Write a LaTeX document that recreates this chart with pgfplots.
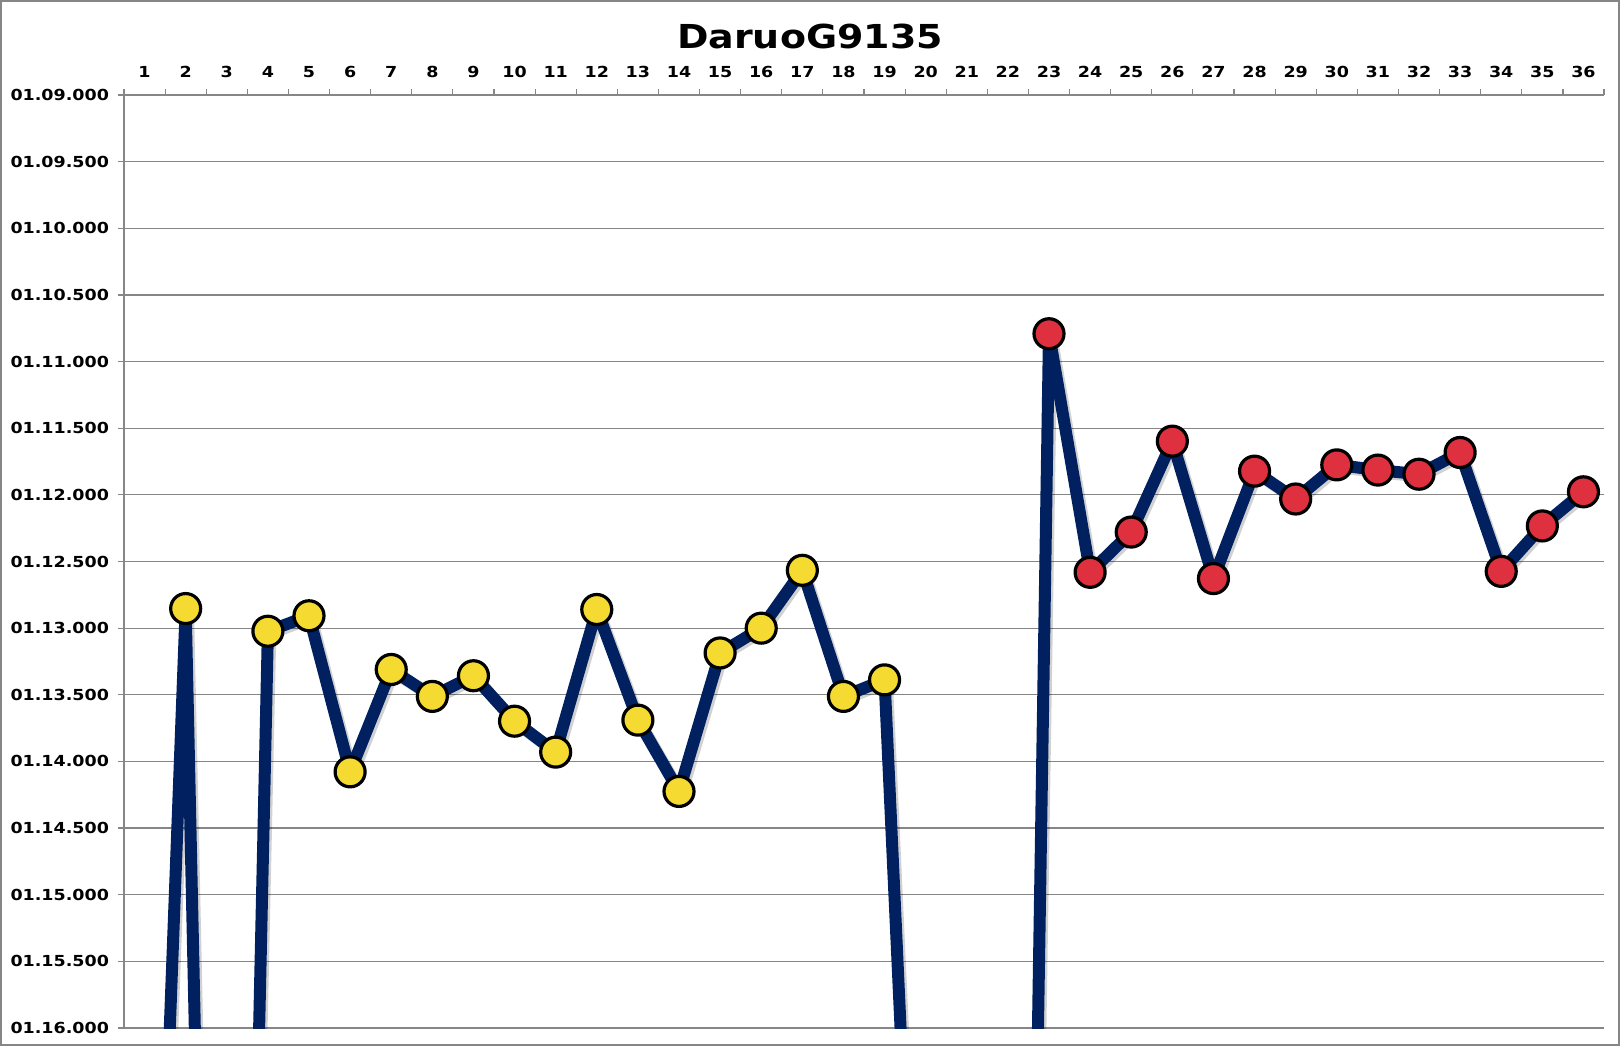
\documentclass[border=0pt]{standalone}
\usepackage{fontspec}
\setmainfont{DejaVu Sans}[FakeStretch=1.15]
\usepackage{pgfplots}
\pgfplotsset{compat=1.18}
\usepackage{pgfplotstable}

\definecolor{navy}{RGB}{0,32,96}
\definecolor{gridgray}{RGB}{134,134,134}
\definecolor{lapyellow}{RGB}{245,218,50}
\definecolor{lapred}{RGB}{222,48,62}

% lap, time in seconds (1:12.853 -> 72.853); laps 1,3,20-22 are off the chart
\pgfplotstableread{
lap time
1  81.0
2  72.853
3  87.0
4  73.023
5  72.907
6  74.078
7  73.310
8  73.512
9  73.357
10 73.698
11 73.930
12 72.860
13 73.690
14 74.225
15 73.186
16 73.000
17 72.566
18 73.512
19 73.388
20 80.1
21 85.0
22 90.2
23 70.791
24 72.581
25 72.279
26 71.597
27 72.628
28 71.822
29 72.031
30 71.775
31 71.814
32 71.845
33 71.682
34 72.574
35 72.233
36 71.977
}\laps

\begin{document}
\begin{tikzpicture}
\useasboundingbox (-62pt,-9pt) rectangle (748pt,514pt);
\draw[gridgray, line width=0.8pt] (-61.5pt,-8.5pt) rectangle (747.5pt,513.5pt);
\begin{axis}[
  scale only axis,
  width=740pt, height=466.5pt,
  xmin=0.5, xmax=36.5,
  ymin=69, ymax=76,
  y dir=reverse,
  axis x line*=top,
  axis y line*=left,
  axis line style={gridgray, line width=0.6pt},
  xtick={1,...,36},
  minor xtick={0.5,1.5,...,36.5},
  xtick style={draw=none},
  minor x tick style={draw=gridgray, line width=0.6pt},
  minor tick length=3pt,
  major tick length=3pt,
  tick align=outside,
  ytick style={gridgray, line width=0.6pt},
  ytick={69,69.5,...,76},
  yticklabels={01.09.000,01.09.500,01.10.000,01.10.500,01.11.000,01.11.500,01.12.000,01.12.500,01.13.000,01.13.500,01.14.000,01.14.500,01.15.000,01.15.500,01.16.000},
  ymajorgrids,
  grid style={gridgray, line width=0.6pt},
  /pgf/number format/assume math mode=true,
  tick label style={font=\bfseries\fontsize{7.6}{9}\selectfont, text=black},
  xticklabel style={yshift=2pt},
  yticklabel style={xshift=-1pt},
  clip=true,
]
\addplot[navy, line width=6pt, line join=round,
  preaction={draw=black, opacity=0.18, line width=6pt, transform canvas={shift={(1.2pt,-1.2pt)}}}]
  table[x=lap, y=time] {\laps};
\addplot[only marks, restrict x to domain=2:19, restrict y to domain=69:76,
  mark=*, mark size=7.5pt,
  mark options={fill=lapyellow, draw=black, line width=1.6pt}]
  table[x=lap, y=time] {\laps};
\addplot[only marks, restrict x to domain=23:36, restrict y to domain=69:76,
  mark=*, mark size=7.5pt,
  mark options={fill=lapred, draw=black, line width=1.6pt}]
  table[x=lap, y=time] {\laps};
\end{axis}
\node[font=\bfseries\fontsize{16.5}{19}\selectfont] at (343pt,496pt) {DaruoG9135};
\end{tikzpicture}
\end{document}
